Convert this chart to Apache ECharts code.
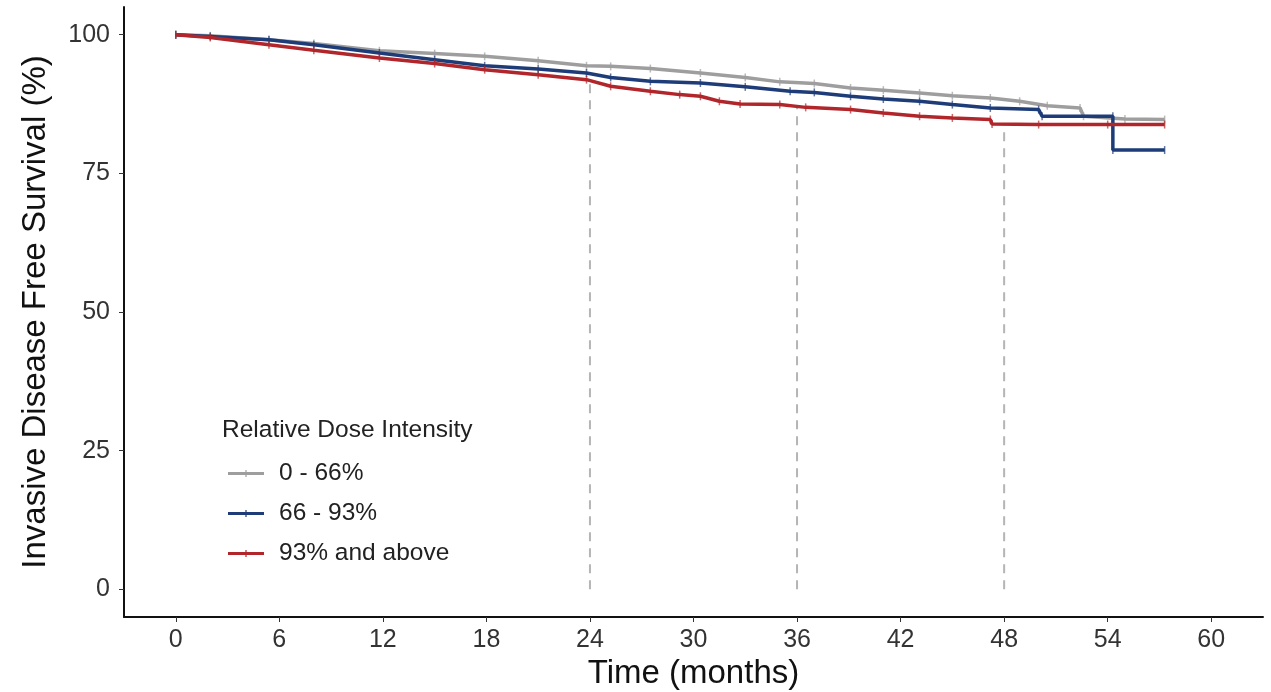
<!DOCTYPE html>
<html>
<head>
<meta charset="utf-8">
<script src="https://cdn.jsdelivr.net/npm/echarts@6/dist/echarts.min.js"></script>
<style>html,body{margin:0;padding:0;background:#fff}#c{width:1271px;height:692px}</style>
</head>
<body>
<div id="c"></div>
<script>
const xTicks = [0, 6, 12, 18, 24, 30, 36, 42, 48, 54, 60];
const yTicks = [0, 25, 50, 75, 100];
const seriesNames = ['0 - 66%', '66 - 93%', '93% and above'];
const colors = ['#9e9e9e', '#1d3c78', '#b0262b'];

const grayCurve = [[0,100],[2,99.8],[5.4,99.1],[8,98.4],[11.8,97.1],[15,96.6],[17.9,96.1],[21,95.3],[23.8,94.4],[25.2,94.3],[27.5,93.9],[30.4,93.1],[33,92.3],[35,91.5],[37,91.2],[39.1,90.4],[41,90.0],[43.1,89.5],[45,89.0],[47.2,88.6],[48.9,88.0],[50.5,87.2],[52.4,86.8],[52.6,85.3],[55,84.8],[57.3,84.7]];
const blueCurve = [[0,100],[2,99.7],[5.4,99.1],[8,98.2],[11.8,96.7],[15,95.5],[17.9,94.4],[21,93.8],[23.8,93.1],[25.2,92.3],[27.5,91.6],[30.4,91.3],[33,90.6],[35.6,89.8],[37,89.6],[39.1,88.9],[41,88.4],[43.1,88.0],[45,87.4],[47.2,86.8],[50,86.5],[50.2,85.3],[54.3,85.3],[54.3,79.2],[57.3,79.2]];
const redCurve = [[0,100],[2,99.5],[5.4,98.2],[8,97.2],[11.8,95.8],[15,94.8],[17.9,93.7],[21,92.8],[23.8,91.9],[25.2,90.7],[27.5,89.8],[29.2,89.2],[30.4,88.9],[31.5,88.0],[32.7,87.5],[35,87.4],[36.5,86.9],[39.1,86.5],[41,85.9],[43.1,85.3],[45,85.0],[47.2,84.7],[47.3,83.9],[50,83.8],[54,83.8],[57.3,83.8]];
const refTimes = [24, 36, 48];
const refTops = [91.5, 87, 84];

const curves = [grayCurve, blueCurve, redCurve];
const FONT = 'Liberation Sans';
const legendIcon = 'path://M0,3.5 L36,3.5 L36,6.5 L0,6.5 Z M17.4,1.5 L18.6,1.5 L18.6,8.5 L17.4,8.5 Z';

const series = [];
refTimes.forEach((t, i) => {
  series.push({
    type: 'line', silent: true, showSymbol: false, z: 1,
    data: [[t, 0], [t, refTops[i]]],
    lineStyle: { color: '#b5b5b5', width: 2, type: [9, 7] }
  });
});
curves.forEach((c, i) => {
  series.push({
    name: seriesNames[i], type: 'line', data: c, z: 2 + i,
    showSymbol: true, symbol: 'rect', symbolSize: [1.5, 8],
    itemStyle: { color: colors[i], opacity: 0.7 },
    lineStyle: { color: colors[i], width: 3.5 },
    animation: false
  });
});

const chart = echarts.init(document.getElementById('c'));
chart.setOption({
  animation: false,
  backgroundColor: '#fff',
  textStyle: { fontFamily: FONT },
  title: {
    text: 'Relative Dose Intensity', left: 217, top: 413,
    textStyle: { fontFamily: FONT, fontSize: 24.5, fontWeight: 'normal', color: '#222' }
  },
  legend: {
    data: seriesNames.map((n, i) => ({ name: n, icon: legendIcon, itemStyle: { color: colors[i], opacity: 1 } })),
    orient: 'vertical', left: 223, top: 456, itemWidth: 36, itemHeight: 10, itemGap: 15,
    textStyle: { fontFamily: FONT, fontSize: 24.5, color: '#222', padding: [0, 0, 0, 10] },
    selectedMode: false
  },
  grid: { left: 124, right: 8, top: 7, bottom: 75, outerBoundsMode: 'none', containLabel: false },
  xAxis: {
    type: 'value', min: -3, max: 63,
    name: 'Time (months)', nameLocation: 'middle', nameGap: 38,
    nameTextStyle: { fontFamily: FONT, fontSize: 33, color: '#111' },
    axisLine: { show: true, onZero: false, lineStyle: { color: '#111', width: 2 } },
    axisTick: { show: true, length: 5, customValues: xTicks, lineStyle: { color: '#333', width: 1 } },
    axisLabel: { customValues: xTicks, fontSize: 25, color: '#333', margin: 11, fontFamily: FONT },
    splitLine: { show: false }
  },
  yAxis: {
    type: 'value', min: -5, max: 105,
    name: 'Invasive Disease Free Survival (%)', nameLocation: 'middle', nameGap: 72, nameRotate: 90,
    nameTextStyle: { fontFamily: FONT, fontSize: 33, color: '#111' },
    axisLine: { show: true, onZero: false, lineStyle: { color: '#111', width: 2 } },
    axisTick: { show: true, length: 5, customValues: yTicks, lineStyle: { color: '#333', width: 1 } },
    axisLabel: { customValues: yTicks, fontSize: 25, color: '#333', margin: 14, fontFamily: FONT },
    splitLine: { show: false }
  },
  series: series
});
</script>
</body>
</html>
